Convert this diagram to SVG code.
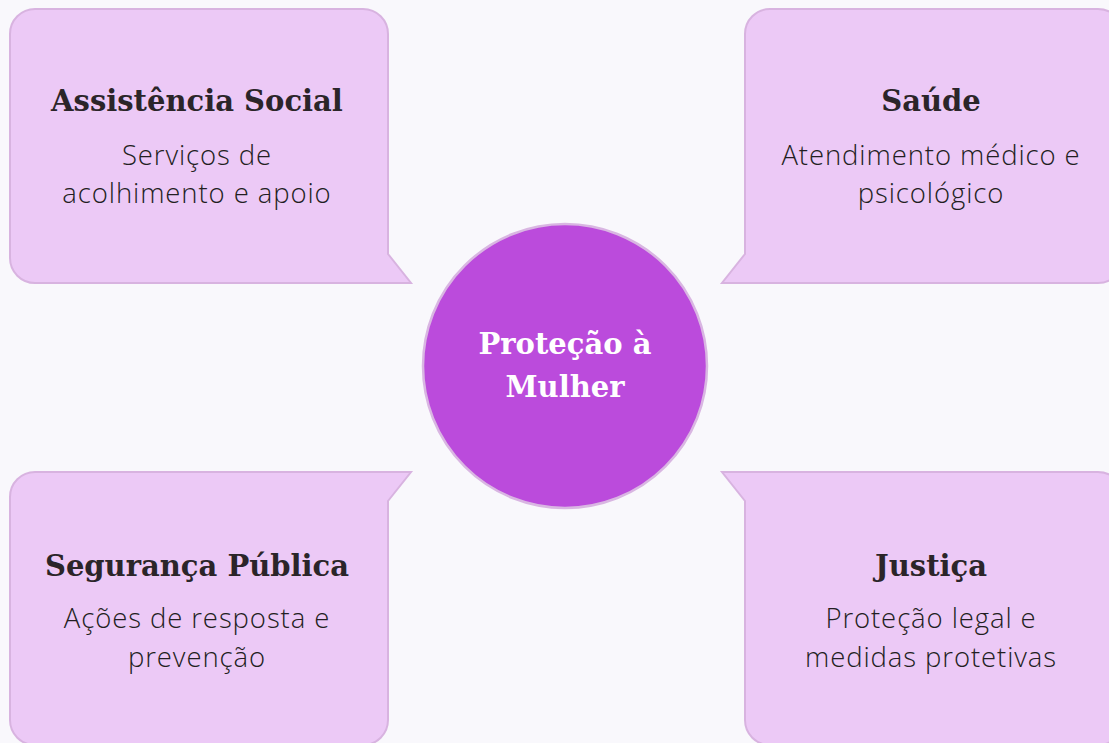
<svg xmlns="http://www.w3.org/2000/svg" width="1109" height="743" viewBox="0 0 1109 743">
<style>
.box{fill:#ecc9f6;stroke:#d8b3e0;stroke-width:2}
.hub{fill:#bb4bdc;stroke:#d9b6e2;stroke-width:2.5}
.t{font-family:"DejaVu Serif","Liberation Serif",serif;font-weight:bold;font-size:29px;fill:#2b2529;text-anchor:middle}
.b{font-family:"Open Sans","Liberation Sans",sans-serif;font-weight:300;font-size:27.5px;letter-spacing:0.9px;fill:#231e22;text-anchor:middle}
.c{font-family:"DejaVu Serif","Liberation Serif",serif;font-weight:bold;font-size:29px;fill:#ffffff;text-anchor:middle}
</style>
<rect x="0" y="0" width="1109" height="743" fill="#f9f8fc"/>
<g id="assistencia-social">
<path class="box" d="M35,9 H363 A25,25 0 0 1 388,34 V254 L411,283 H35 A25,25 0 0 1 10,258 V34 A25,25 0 0 1 35,9 Z"/>
<text class="t" x="197" y="111">Assistência Social</text>
<text class="b" x="197" y="165">Serviços de</text>
<text class="b" x="197" y="203">acolhimento e apoio</text>
</g>
<g id="saude">
<path class="box" d="M770,9 H1098 A25,25 0 0 1 1123,34 V258 A25,25 0 0 1 1098,283 H722 L745,254 V34 A25,25 0 0 1 770,9 Z"/>
<text class="t" x="931" y="111">Saúde</text>
<text class="b" x="931" y="165">Atendimento médico e</text>
<text class="b" x="931" y="203">psicológico</text>
</g>
<g id="seguranca-publica">
<path class="box" d="M35,472 H411 L388,501 V720 A25,25 0 0 1 363,745 H35 A25,25 0 0 1 10,720 V497 A25,25 0 0 1 35,472 Z"/>
<text class="t" x="197" y="576">Segurança Pública</text>
<text class="b" x="197" y="628">Ações de resposta e</text>
<text class="b" x="197" y="667">prevenção</text>
</g>
<g id="justica">
<path class="box" d="M722,472 H1098 A25,25 0 0 1 1123,497 V720 A25,25 0 0 1 1098,745 H770 A25,25 0 0 1 745,720 V501 Z"/>
<text class="t" x="931" y="576">Justiça</text>
<text class="b" x="931" y="628">Proteção legal e</text>
<text class="b" x="931" y="667">medidas protetivas</text>
</g>
<g id="protecao-mulher">
<circle class="hub" cx="565" cy="366" r="142"/>
<text class="c" x="565" y="354">Proteção à</text>
<text class="c" x="565" y="397">Mulher</text>
</g>
<g id="connectors"/>
</svg>
